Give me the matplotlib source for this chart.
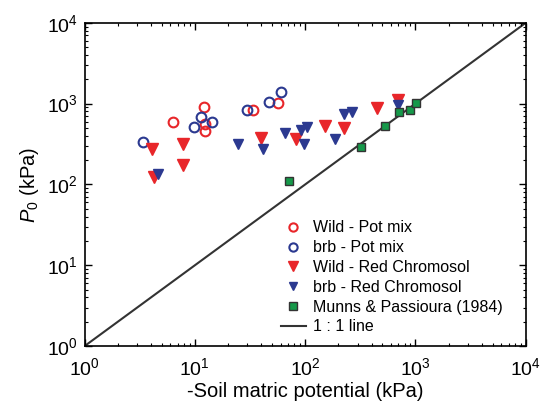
import numpy as np
import matplotlib
matplotlib.use('Agg')
import matplotlib.pyplot as plt

plt.rcParams['font.family'] = ['Liberation Sans', 'DejaVu Sans']
plt.rcParams['mathtext.fontset'] = 'custom'
plt.rcParams['mathtext.rm'] = 'Liberation Sans'
plt.rcParams['mathtext.it'] = 'Liberation Sans:italic'

# --- data (kPa) ---
wild_pot_x = [6.3, 12.2, 12.3, 12.3, 33.4, 57]
wild_pot_y = [597, 900, 560, 462, 826, 1017]

brb_pot_x = [3.37, 9.75, 11.4, 14.4, 29.6, 46.6, 60.2]
brb_pot_y = [335, 518, 689, 587, 826, 1038, 1380]

wild_red_x = [4.11, 4.24, 7.85, 7.85, 39.7, 82.4, 151, 226, 449, 695]
wild_red_y = [274, 122, 314, 174, 372, 361, 528, 495, 875, 1110]

brb_red_x = [4.6, 24.7, 41.7, 65.5, 91.4, 104, 98, 186, 226, 267, 695]
brb_red_y = [133, 316, 272, 436, 471, 509, 314, 368, 737, 780, 961]

munns_x = [71.2, 324, 535, 706, 888, 1006]
munns_y = [110, 293, 533, 794, 833, 1008]

one_to_one = [1, 1e4]

red = '#e8262a'
blue = '#2b3990'
green = '#16994a'

fig = plt.figure(figsize=(5.42, 4.15), dpi=100)
ax = fig.add_axes([0.156, 0.166, 0.814, 0.779])

ax.plot(one_to_one, one_to_one, color='#333333', lw=1.5, label='1 : 1 line', zorder=1)
ax.plot(wild_pot_x, wild_pot_y, 'o', ls='none', mfc='none', mec=red, mew=1.5, ms=7,
        label='Wild - Pot mix', zorder=3)
ax.plot(brb_pot_x, brb_pot_y, 'o', ls='none', mfc='none', mec=blue, mew=1.5, ms=7,
        label='brb - Pot mix', zorder=3)
ax.plot(wild_red_x, wild_red_y, 'v', ls='none', color=red, ms=8,
        label='Wild - Red Chromosol', zorder=3)
ax.plot(brb_red_x, brb_red_y, 'v', ls='none', color=blue, ms=7,
        label='brb - Red Chromosol', zorder=3)
ax.plot(munns_x, munns_y, 's', ls='none', mfc=green, mec='#333333', mew=1, ms=6,
        label='Munns & Passioura (1984)', zorder=4)

ax.set_xscale('log')
ax.set_yscale('log')
ax.set_xlim(1, 1e4)
ax.set_ylim(1, 1e4)

ax.tick_params(which='both', direction='in', top=True, right=True, labelsize=14)
ax.tick_params(which='major', length=5, width=1)
ax.tick_params(which='minor', length=2.5, width=0.8)
ax.tick_params(axis='x', which='major', pad=8)
ax.tick_params(axis='y', which='major', pad=5)
for s in ax.spines.values():
    s.set_linewidth(1.2)

ax.set_xlabel('-Soil matric potential (kPa)', fontsize=14.5, labelpad=2)
ax.set_ylabel(r'$\mathit{P}_{\mathrm{0}}$ (kPa)', fontsize=14.5, labelpad=4)

handles, labels = ax.get_legend_handles_labels()
order = [1, 2, 3, 4, 5, 0]
ax.legend([handles[i] for i in order], [labels[i] for i in order],
          loc='lower left', bbox_to_anchor=(0.412, -0.008), frameon=False,
          fontsize=11.5, handlelength=1.6, handletextpad=0.4, labelspacing=0.3,
          markerscale=0.85)

fig.savefig('out.png', dpi=100)
